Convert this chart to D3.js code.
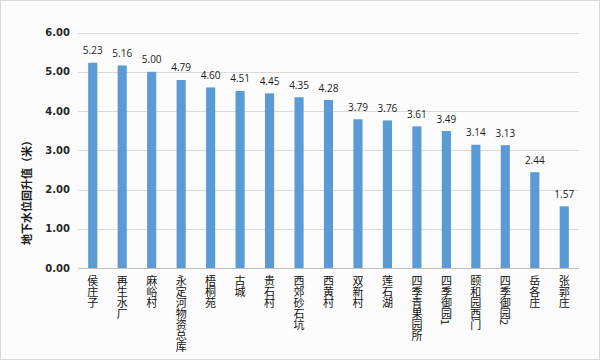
<!DOCTYPE html>
<html><head><meta charset="utf-8">
<script src="https://cdn.jsdelivr.net/npm/d3@7/dist/d3.min.js"></script>
<style>
html,body{margin:0;padding:0;background:#fff;}
svg{display:block;}
</style></head>
<body>
<svg id="chart" width="600" height="360"></svg>
<script>
const categories = ["侯庄子","再生水厂","麻峪村","永定河物资总库","梧桐苑","古城","贵石村","西郊砂石坑","西黄村","双新村","莲石湖","四季青果园所","四季御园1","颐和园西门","四季御园2","岳各庄","张郭庄"];
const values = [5.23,5.16,5.00,4.79,4.60,4.51,4.45,4.35,4.28,3.79,3.76,3.61,3.49,3.14,3.13,2.44,1.57];
const yTicks = [0,1,2,3,4,5,6];
const yLabel = "地下水位回升值（米）";

const svg = d3.select("#chart");
svg.append("rect").attr("x",0.5).attr("y",0.5).attr("width",599).attr("height",359)
  .attr("fill","#fbfcfb").attr("stroke","#d9d9d9");

const mLeft = 78, mRight = 579, mTop = 32.5, mBottom = 268;
const x = d3.scaleBand().domain(categories).range([mLeft,mRight]).paddingInner(0.69).paddingOuter(0.345);
const y = d3.scaleLinear().domain([0,6]).range([mBottom,mTop]);

// gridlines
svg.append("g").selectAll("line").data(yTicks.filter(d=>d>0)).join("line")
  .attr("x1",mLeft).attr("x2",mRight)
  .attr("y1",d=>Math.round(y(d))+0.5).attr("y2",d=>Math.round(y(d))+0.5)
  .attr("stroke","#d9d9d9").attr("stroke-width",1);

// y axis
const yAxis = d3.axisLeft(y).tickValues(yTicks).tickFormat(d3.format(".2f")).tickSize(0).tickPadding(8);
const gy = svg.append("g").attr("transform",`translate(${mLeft},0)`).call(yAxis);
gy.select(".domain").remove();
gy.selectAll("text").attr("font-family","DejaVu Sans").attr("font-weight","bold")
  .attr("font-size","10px").attr("fill","#262626");

// bars
svg.append("g").selectAll("rect").data(categories).join("rect")
  .attr("x",d=>x(d)).attr("width",x.bandwidth())
  .attr("y",(d,i)=>y(values[i])).attr("height",(d,i)=>y(0)-y(values[i]))
  .attr("fill","#5b9bd5");

// baseline
svg.append("line").attr("x1",mLeft).attr("x2",mRight).attr("y1",mBottom+0.5).attr("y2",mBottom+0.5)
  .attr("stroke","#bfbfbf");

// value labels
svg.append("g").selectAll("text").data(categories).join("text")
  .attr("x",d=>x(d)+x.bandwidth()/2)
  .attr("y",(d,i)=>y(values[i])-8.5)
  .attr("text-anchor","middle")
  .attr("font-family","Open Sans").attr("font-size","10px").attr("fill","#1a1a1a")
  .text((d,i)=>values[i].toFixed(2));

// category labels (vertical)
svg.append("g").selectAll("text").data(categories).join("text")
  .attr("x",d=>x(d)+x.bandwidth()/2)
  .attr("y",275)
  .style("writing-mode","vertical-rl")
  .attr("font-family","Noto Sans CJK SC").attr("font-size","11px").attr("fill","#111")
  .text(d=>d);

// y label
svg.append("text")
  .attr("transform","translate(31,190) rotate(-90)")
  .attr("text-anchor","middle")
  .attr("font-family","Noto Sans CJK SC").attr("font-weight","bold").attr("font-size","11px").attr("fill","#1a1a1a")
  .text(yLabel);
</script>
</body></html>
